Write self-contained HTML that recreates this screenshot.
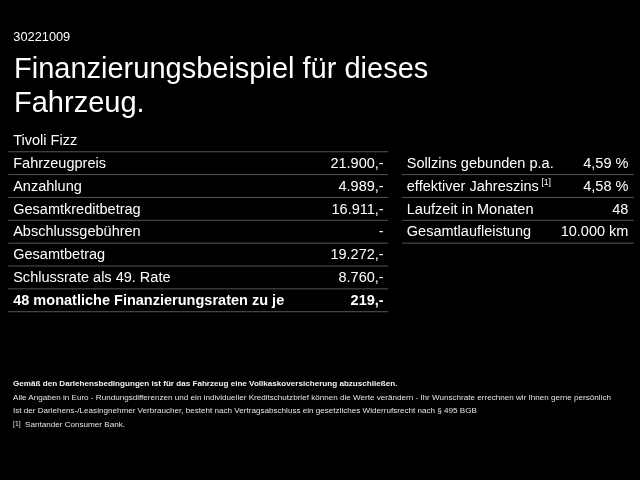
<!DOCTYPE html>
<html lang="de"><head><meta charset="utf-8"><title>Finanzierungsbeispiel</title>
<style>
html,body{margin:0;padding:0;background:#000;}
body{width:640px;height:480px;overflow:hidden;position:relative;color:#fff;font-family:"Liberation Sans",Arial,sans-serif;}
.abs{position:absolute;white-space:nowrap;}
#id{left:13.3px;top:28.6px;font-size:12.8px;line-height:15px;}
#h{left:14px;top:51.4px;font-size:29px;line-height:34px;}
.c{position:absolute;white-space:nowrap;font-size:14.52px;line-height:20px;height:20px;}
.l1{left:13.2px;}
.r1{right:256.3px;text-align:right;}
.l2{left:406.8px;}
.r2{right:11.6px;text-align:right;}
.b{font-weight:bold;}
.sup{font-size:8.6px;position:relative;top:-5.9px;margin-left:2.6px;}
.sp{font-size:13px;}
.f{left:13px;font-size:8.1px;line-height:10px;color:#e4e4e4;}
.f.b{color:#f4f4f4;}
svg{position:absolute;left:0;top:0;}
</style></head><body>
<div class="abs" id="id">30221009</div>
<div class="abs" id="h">Finanzierungsbeispiel für dieses<br>Fahrzeug.</div>
<svg width="640" height="480" viewBox="0 0 640 480">
<rect x="8.3" y="151.25" width="380.1" height="1" fill="#545454"/>
<rect x="8.3" y="174.10" width="380.1" height="1" fill="#545454"/>
<rect x="8.3" y="196.95" width="380.1" height="1" fill="#545454"/>
<rect x="8.3" y="219.80" width="380.1" height="1" fill="#545454"/>
<rect x="8.3" y="242.65" width="380.1" height="1" fill="#545454"/>
<rect x="8.3" y="265.50" width="380.1" height="1" fill="#545454"/>
<rect x="8.3" y="288.35" width="380.1" height="1" fill="#545454"/>
<rect x="8.3" y="311.20" width="380.1" height="1" fill="#545454"/>
<rect x="402" y="174.10" width="231.9" height="1" fill="#545454"/>
<rect x="402" y="196.95" width="231.9" height="1" fill="#545454"/>
<rect x="402" y="219.80" width="231.9" height="1" fill="#545454"/>
<rect x="402" y="242.65" width="231.9" height="1" fill="#545454"/>
</svg>
<div class="c l1" style="top:130.07px">Tivoli Fizz</div>
<div class="c l1" style="top:152.92px">Fahrzeugpreis</div>
<div class="c r1" style="top:152.92px">21.900,-</div>
<div class="c l1" style="top:175.77px">Anzahlung</div>
<div class="c r1" style="top:175.77px">4.989,-</div>
<div class="c l1" style="top:198.62px">Gesamtkreditbetrag</div>
<div class="c r1" style="top:198.62px">16.911,-</div>
<div class="c l1" style="top:221.47px">Abschlussgebühren</div>
<div class="c r1" style="top:221.47px">-</div>
<div class="c l1" style="top:244.32px">Gesamtbetrag</div>
<div class="c r1" style="top:244.32px">19.272,-</div>
<div class="c l1" style="top:267.17px">Schlussrate als 49. Rate</div>
<div class="c r1" style="top:267.17px">8.760,-</div>
<div class="c l1 b" style="top:290.02px">48 monatliche Finanzierungsraten zu je</div>
<div class="c r1 b" style="top:290.02px">219,-</div>
<div class="c l2" style="top:152.92px">Sollzins gebunden p.a.</div>
<div class="c r2" style="top:152.92px">4,59 %</div>
<div class="c l2" style="top:175.77px">effektiver Jahreszins<span class="sup">[1]</span></div>
<div class="c r2" style="top:175.77px">4,58 %</div>
<div class="c l2" style="top:198.62px">Laufzeit in Monaten</div>
<div class="c r2" style="top:198.62px">48</div>
<div class="c l2" style="top:221.47px">Gesamtlaufleistung</div>
<div class="c r2" style="top:221.47px">10.000 km</div>
<div class="abs f b" style="top:379.4px;">Gemäß den Darlehensbedingungen ist für das Fahrzeug eine Vollkaskoversicherung abzuschließen.</div>
<div class="abs f" style="top:393px;">Alle Angaben in Euro - Rundungsdifferenzen und ein individueller Kreditschutzbrief können die Werte verändern - Ihr Wunschrate errechnen wir Ihnen gerne persönlich</div>
<div class="abs f" style="top:405.8px;">Ist der Darlehens-/Leasingnehmer Verbraucher, besteht nach Vertragsabschluss ein gesetzliches Widerrufsrecht nach § 495 BGB</div>
<div class="abs f" style="top:420px;"><span style="font-size:6.8px;position:relative;top:-1.4px;">[1]</span>&nbsp; Santander Consumer Bank.</div>
</body></html>
